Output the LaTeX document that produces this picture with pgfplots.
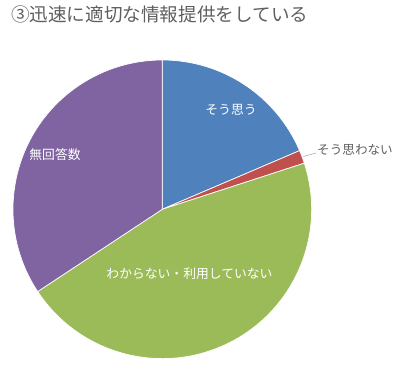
\documentclass[border=0pt]{standalone}
\usepackage{pgfplots}
\pgfplotsset{compat=1.18}
\usepackage{fontspec}
\newfontfamily\cjk{Noto Sans CJK JP}
\definecolor{cblue}{RGB}{79,129,189}
\definecolor{cred}{RGB}{192,80,77}
\definecolor{cgreen}{RGB}{155,187,89}
\definecolor{cpurple}{RGB}{128,100,162}
\definecolor{ctext}{RGB}{95,95,95}
% slice: #1 cumulative value before, #2 value, #3 colour; total 70
\newcommand{\pieslice}[3]{%
  \fill[#3, draw=white, line width=0.7pt] (axis cs:162.3,156.7) -- ++({90-#1*(360/70)}:149.3bp)
    arc[start angle={90-#1*(360/70)}, delta angle={-#2*(360/70)}, radius=149.3] -- cycle;}
\begin{document}
\begin{tikzpicture}
\begin{axis}[width=400bp, height=366bp, xmin=0, xmax=400, ymin=0, ymax=366,
  scale only axis, hide axis, clip=false, xtick=\empty, ytick=\empty]
\pieslice{0}{13}{cblue}
\pieslice{13}{1}{cred}
\pieslice{14}{32}{cgreen}
\pieslice{46}{24}{cpurple}
\draw[ctext!60, line width=0.5pt] (axis cs:303.5,209.5) -- (axis cs:316,213);
\node[anchor=west, text=ctext, font=\cjk\fontsize{18.6bp}{20bp}\selectfont, inner sep=0pt] at (axis cs:11,352) {③迅速に適切な情報提供をしている};
\node[text=white, font=\cjk\fontsize{12.8bp}{14bp}\selectfont] at (axis cs:231,256) {そう思う};
\node[text=ctext, font=\cjk\fontsize{12.6bp}{14bp}\selectfont] at (axis cs:355,216) {そう思わない};
\node[text=white, font=\cjk\fontsize{12.8bp}{14bp}\selectfont] at (axis cs:55,211.7) {無回答数};
\node[text=white, font=\cjk\fontsize{12.8bp}{14bp}\selectfont] at (axis cs:189.5,92.7) {わからない・利用していない};
\end{axis}
\pgfresetboundingbox
\path[use as bounding box] (current axis.south west) rectangle (current axis.north east);
\end{tikzpicture}
\end{document}
